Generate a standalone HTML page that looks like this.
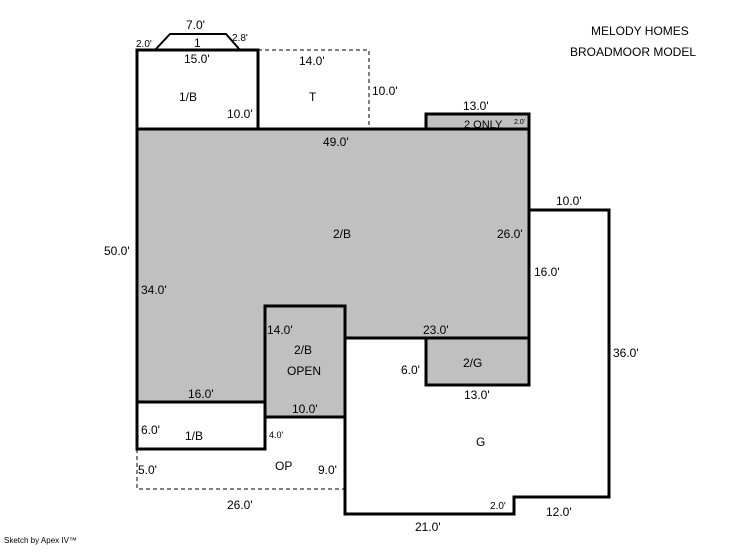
<!DOCTYPE html>
<html><head><style>
body{margin:0;background:#fff;width:746px;height:547px;overflow:hidden}
svg text{font-family:"Liberation Sans",sans-serif;font-size:12px;fill:#000}
</style></head><body>
<svg width="746" height="547" xmlns="http://www.w3.org/2000/svg">
<g fill="#c0c0c0" stroke="none">
<polygon points="137,129 529,129 529,338 345,338 345,306 265,306 265,402 137,402"/>
<rect x="265" y="306" width="80" height="111"/>
<rect x="426" y="338" width="103" height="47"/>
<rect x="426" y="114" width="103" height="15"/>
</g>
<g fill="none" stroke="#000" stroke-width="1" stroke-dasharray="4,3">
<polyline points="258,50 369,50 369,129"/>
<polyline points="137,449 137,489 345,489"/>
</g>
<g fill="none" stroke="#000" stroke-width="3">
<polygon points="137,129 529,129 529,338 345,338 345,306 265,306 265,402 137,402"/>
<rect x="265" y="306" width="80" height="111"/>
<rect x="426" y="338" width="103" height="47"/>
<rect x="426" y="114" width="103" height="15"/>
<rect x="137" y="50" width="121" height="79"/>
<rect x="137" y="402" width="128" height="47"/>
<polyline points="345,338 345,514 514,514 514,497 609,497 609,210 529,210"/>
</g>
<g fill="none" stroke="#000" stroke-width="2">
<polyline points="155,50 170,34 226,34 240,50"/>
</g>
<text x="186" y="29">7.0'</text>
<text x="136" y="47" style="font-size:10px">2.0'</text>
<text x="232" y="41" style="font-size:10px">2.8'</text>
<text x="194" y="47">1</text>
<text x="184" y="63">15.0'</text>
<text x="179" y="101">1/B</text>
<text x="227" y="118">10.0'</text>
<text x="299" y="65">14.0'</text>
<text x="309" y="101">T</text>
<text x="372" y="95">10.0'</text>
<text x="463" y="110">13.0'</text>
<text x="464" y="128" style="font-size:11px">2 ONLY</text>
<text x="514" y="124" style="font-size:7px">2.0'</text>
<text x="323" y="146">49.0'</text>
<text x="591" y="35">MELODY HOMES</text>
<text x="570" y="56">BROADMOOR MODEL</text>
<text x="104" y="255">50.0'</text>
<text x="333" y="238">2/B</text>
<text x="497" y="238">26.0'</text>
<text x="141" y="294">34.0'</text>
<text x="534" y="276">16.0'</text>
<text x="556" y="205">10.0'</text>
<text x="613" y="357">36.0'</text>
<text x="267" y="334">14.0'</text>
<text x="294" y="354">2/B</text>
<text x="287" y="375">OPEN</text>
<text x="423" y="334">23.0'</text>
<text x="463" y="367">2/G</text>
<text x="401" y="374">6.0'</text>
<text x="464" y="399">13.0'</text>
<text x="188" y="398">16.0'</text>
<text x="292" y="413">10.0'</text>
<text x="141" y="434">6.0'</text>
<text x="185" y="440">1/B</text>
<text x="269" y="438" style="font-size:9px">4.0'</text>
<text x="476" y="446">G</text>
<text x="275" y="470">OP</text>
<text x="318" y="474">9.0'</text>
<text x="138" y="474">5.0'</text>
<text x="227" y="509">26.0'</text>
<text x="490" y="509" style="font-size:10px">2.0'</text>
<text x="546" y="516">12.0'</text>
<text x="415" y="531">21.0'</text>
<text x="4" y="543" style="font-size:8px">Sketch by Apex IV™</text>
</svg>
</body></html>
